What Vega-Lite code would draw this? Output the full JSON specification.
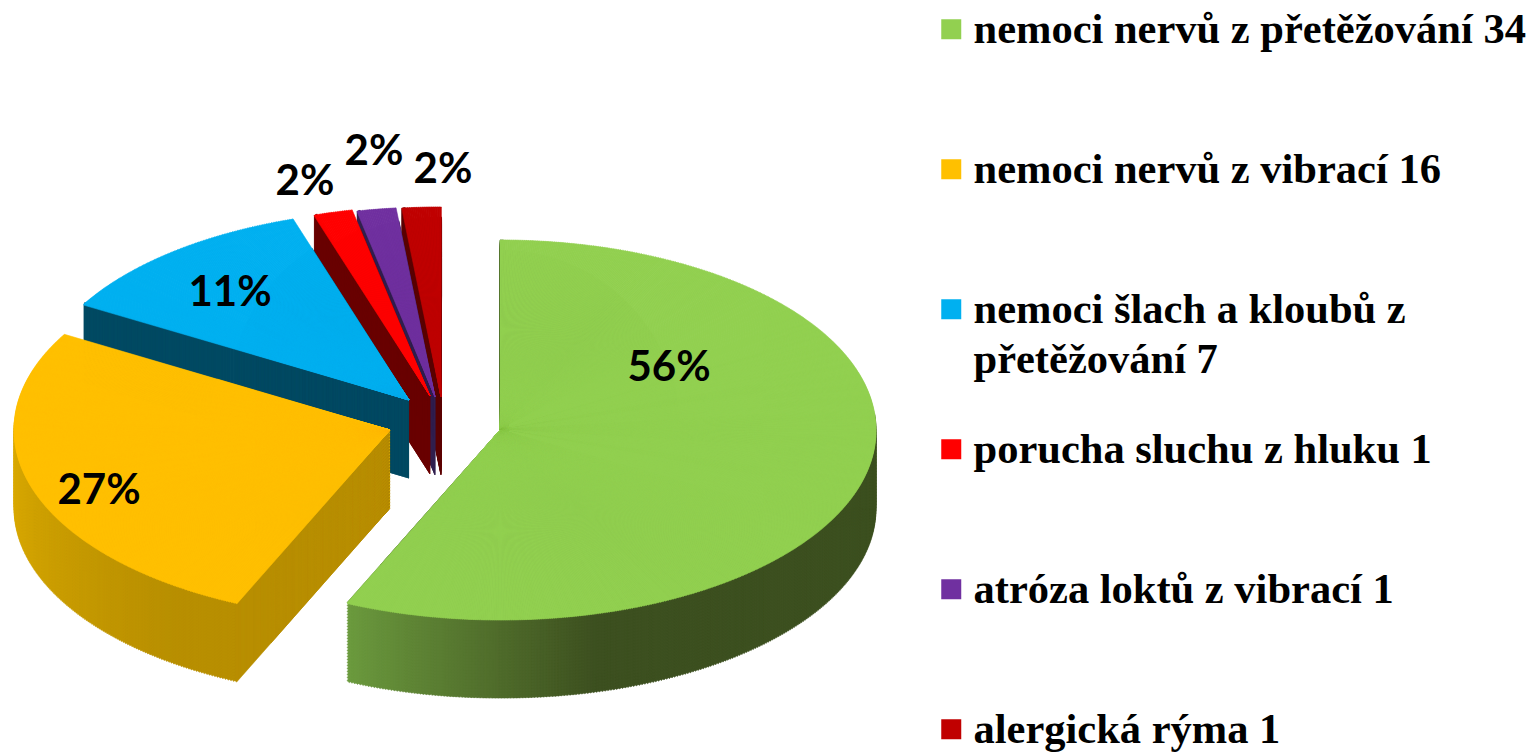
{
"$schema":"https://vega.github.io/schema/vega-lite/v6.json",
"autosize":{"type":"fit","contains":"padding"},
"width":1532,"height":752,"padding":0,
"background":"white",
"config":{"view":{"stroke":null}},
"data":{"values":[
{"name":"alergická rýma","value":1,"percent":"2%"},
{"name":"atróza loktů z vibrací","value":1,"percent":"2%"},
{"name":"porucha sluchu z hluku","value":1,"percent":"2%"},
{"name":"nemoci šlach a kloubů z přetěžování","value":7,"percent":"11%"},
{"name":"nemoci nervů z vibrací","value":16,"percent":"27%"},
{"name":"nemoci nervů z přetěžování","value":34,"percent":"56%"}
]},
"transform":[
{"calculate":"indexof(['nemoci nervů z přetěžování','nemoci nervů z vibrací','nemoci šlach a kloubů z přetěžování','porucha sluchu z hluku','atróza loktů z vibrací','alergická rýma'],datum.name)","as":"i"},
{"calculate":"datum.name+' '+datum.value","as":"legend"},
{"stack":"value","groupby":[],"sort":[{"field":"i","order":"ascending"}],"as":["v0","v1"]},
{"joinaggregate":[{"op":"sum","field":"value","as":"total"}]},
{"calculate":"datum.v0/datum.total*2*PI","as":"t0"},
{"calculate":"datum.v1/datum.total*2*PI","as":"t1"},
{"calculate":"[500,390,409,430,435,441][datum.i]","as":"cx"},
{"calculate":"[430,430,400,396,397,397][datum.i]","as":"cy"}
],
"layer":[
{"transform":[
{"calculate":"sequence(78,-1,-1)","as":"d"},{"flatten":["d"]},
{"calculate":"ceil((datum.t1-datum.t0)/0.008)","as":"n"},
{"calculate":"sequence(-1,datum.n)","as":"k"},{"flatten":["k"]},
{"calculate":"datum.k<0?datum.t0:datum.t0+datum.k*(datum.t1-datum.t0)/datum.n","as":"a0"},
{"calculate":"datum.k<0?datum.t1:datum.t0+(datum.k+1)*(datum.t1-datum.t0)/datum.n","as":"a1"},
{"calculate":"datum.k<0?datum.t0*180/PI+0.05:(datum.a0+datum.a1)*90/PI","as":"deg"},
{"filter":"datum.k<=0||(datum.d%3==0&&datum.deg>85&&datum.deg<272)"},
{"calculate":"atan2(376*sin(datum.a0),190*cos(datum.a0))","as":"p0"},
{"calculate":"atan2(376*sin(datum.a1),190*cos(datum.a1))","as":"p1"},
{"calculate":"datum.p0+2*PI*round((datum.a0-datum.p0)/(2*PI))","as":"phi0"},
{"calculate":"datum.p1+2*PI*round((datum.a1-datum.p1)/(2*PI))+0.003","as":"phi1"},
{"calculate":"datum.k<0?180:sqrt(pow(376*sin((datum.a0+datum.a1)/2),2)+pow(190*cos((datum.a0+datum.a1)/2),2))","as":"r"},
{"calculate":"datum.cy+datum.d","as":"yy"}
],
"mark":{"type":"arc","opacity":1,"strokeWidth":0.6},
"encoding":{
"x":{"field":"cx","type":"quantitative","scale":null},
"y":{"field":"yy","type":"quantitative","scale":null},
"theta":{"field":"phi0","type":"quantitative","scale":null,"stack":null},
"theta2":{"field":"phi1"},
"radius":{"field":"r","type":"quantitative","scale":null},
"color":{"field":"deg","type":"quantitative","legend":null,
"scale":{"domain":[0,165,204,204.01,215,270,300,300.01,342,342.01,348,348.01,354,354.01,360],
"range":["#3d5020","#3d5020","#6b9a3e","#b88f00","#b88f00","#dcab00","#dcab00","#004a63","#004a63","#6a0000","#6a0000","#32204f","#32204f","#5c0000","#5c0000"]}},
"stroke":{"field":"deg","type":"quantitative","legend":null,
"scale":{"domain":[0,165,204,204.01,215,270,300,300.01,342,342.01,348,348.01,354,354.01,360],
"range":["#3d5020","#3d5020","#6b9a3e","#b88f00","#b88f00","#dcab00","#dcab00","#004a63","#004a63","#6a0000","#6a0000","#32204f","#32204f","#5c0000","#5c0000"]}}
}},
{"transform":[
{"calculate":"ceil((datum.t1-datum.t0)/0.005)","as":"n"},
{"calculate":"sequence(0,datum.n)","as":"k"},{"flatten":["k"]},
{"calculate":"datum.t0+datum.k*(datum.t1-datum.t0)/datum.n","as":"a0"},
{"calculate":"datum.t0+(datum.k+1)*(datum.t1-datum.t0)/datum.n","as":"a1"},
{"calculate":"atan2(376*sin(datum.a0),190*cos(datum.a0))","as":"p0"},
{"calculate":"atan2(376*sin(datum.a1),190*cos(datum.a1))","as":"p1"},
{"calculate":"datum.p0+2*PI*round((datum.a0-datum.p0)/(2*PI))","as":"phi0"},
{"calculate":"datum.p1+2*PI*round((datum.a1-datum.p1)/(2*PI))+0.002","as":"phi1"},
{"calculate":"sqrt(pow(376*sin((datum.a0+datum.a1)/2),2)+pow(190*cos((datum.a0+datum.a1)/2),2))","as":"r"}
],
"mark":{"type":"arc","opacity":1,"strokeWidth":0.6},
"encoding":{
"x":{"field":"cx","type":"quantitative","scale":null},
"y":{"field":"cy","type":"quantitative","scale":null},
"theta":{"field":"phi0","type":"quantitative","scale":null,"stack":null},
"theta2":{"field":"phi1"},
"radius":{"field":"r","type":"quantitative","scale":null},
"stroke":{"field":"legend","type":"nominal","legend":null,
"scale":{"domain":["nemoci nervů z přetěžování 34","nemoci nervů z vibrací 16","nemoci šlach a kloubů z přetěžování 7","porucha sluchu z hluku 1","atróza loktů z vibrací 1","alergická rýma 1"],
"range":["#92d050","#ffc000","#00b0f0","#ff0000","#7030a0","#c00000"]}},
"color":{"field":"legend","type":"nominal","sort":null,
"scale":{"domain":["nemoci nervů z přetěžování 34","nemoci nervů z vibrací 16","nemoci šlach a kloubů z přetěžování 7","porucha sluchu z hluku 1","atróza loktů z vibrací 1","alergická rýma 1"],
"range":["#92d050","#ffc000","#00b0f0","#ff0000","#7030a0","#c00000"]},
"legend":{"title":null,"orient":"none","legendX":930,"legendY":8,"symbolType":"square","symbolSize":400,"symbolStrokeWidth":0,"symbolOpacity":1,"labelFont":"Liberation Serif","labelFontWeight":"bold","labelFontSize":42.5,"labelColor":"black","labelLimit":700,"labelOffset":1,"labelBaseline":"top","rowPadding":46,"padding":0,"gridAlign":"all",
"labelExpr":"indexof(datum.label,'šlach')>0?['nemoci šlach a kloubů z','přetěžování 7']:datum.label",
"encode":{"labels":{"update":{"dy":{"value":-20},"lineHeight":{"value":50}}}}}
}}},
{"transform":[
{"calculate":"[669,99,230,305,374,443][datum.i]","as":"lx"},
{"calculate":"[368,491,293,182,152,170][datum.i]","as":"ly"}
],
"mark":{"type":"text","font":"Lato","fontWeight":"bold","fontSize":42,"color":"black","align":"center","baseline":"middle"},
"encoding":{
"x":{"field":"lx","type":"quantitative","scale":null},
"y":{"field":"ly","type":"quantitative","scale":null},
"text":{"field":"percent"}
}}
],
"resolve":{"scale":{"color":"independent","stroke":"independent"}}
}
